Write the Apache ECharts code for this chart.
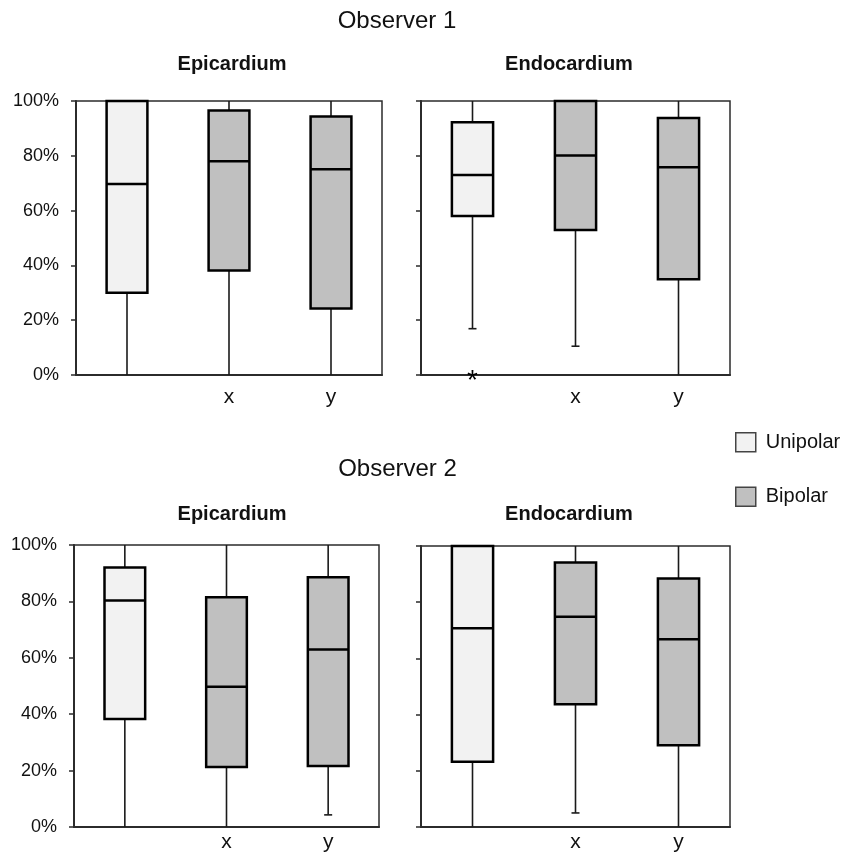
<!DOCTYPE html>
<html>
<head>
<meta charset="utf-8">
<script src="https://cdn.jsdelivr.net/npm/echarts@6/dist/echarts.min.js"></script>
<style>html,body{margin:0;padding:0;background:#fff;}#c{width:859px;height:853px;}</style>
</head>
<body>
<div id="c"></div>
<script>
// ---- data: [min, Q1, median, Q3, max] in percent ----
const categories = ['', 'x', 'y'];
const yTickValues = [0, 20, 40, 60, 80, 100];
const legendNames = ['Unipolar', 'Bipolar'];
const panelTitles = ['Epicardium', 'Endocardium'];
const observerTitles = ['Observer 1', 'Observer 2'];

const obs1EpiUnipolar  = [0, 30.0, 69.7, 100, 100];
const obs1EpiBipolarX  = [0, 38.1, 78.0, 96.5, 100];
const obs1EpiBipolarY  = [0, 24.3, 75.1, 94.3, 100];

const obs1EndoUnipolar = [16.9, 58.0, 73.0, 92.2, 100];
const obs1EndoBipolarX = [10.5, 52.9, 80.1, 100, 100];
const obs1EndoBipolarY = [0, 34.9, 75.8, 93.8, 100];
const obs1EndoUnipolarOutliers = [0];

const obs2EpiUnipolar  = [0, 38.3, 80.3, 92.0, 100];
const obs2EpiBipolarX  = [0, 21.3, 49.7, 81.5, 100];
const obs2EpiBipolarY  = [4.3, 21.6, 62.9, 88.6, 100];

const obs2EndoUnipolar = [0, 23.2, 70.7, 100, 100];
const obs2EndoBipolarX = [5.0, 43.7, 74.8, 94.1, 100];
const obs2EndoBipolarY = [0, 29.1, 66.8, 88.4, 100];

const FONT = "'Liberation Sans', Arial, sans-serif";
const UNI_FILL = '#f2f2f2';
const BI_FILL = '#c0c0c0';
const LINE = '#2b2b2b';

function boxRenderer(fill) {
  return function (params, api) {
    const c = api.value(0);
    const lo = api.coord([c, api.value(1)]);
    const q1 = api.coord([c, api.value(2)]);
    const md = api.coord([c, api.value(3)]);
    const q3 = api.coord([c, api.value(4)]);
    const hi = api.coord([c, api.value(5)]);
    const bw = api.size([1, 0])[0] * 0.4;
    const cx = lo[0];
    const cap = 4;
    const wStyle = { stroke: '#1a1a1a', lineWidth: 1.6 };
    const children = [
      { type: 'line', shape: { x1: cx, y1: hi[1], x2: cx, y2: q3[1] }, style: wStyle },
      { type: 'line', shape: { x1: cx, y1: q1[1], x2: cx, y2: lo[1] }, style: wStyle }
    ];
    if (api.value(1) > 0) {
      children.push({ type: 'line', shape: { x1: cx - cap, y1: lo[1], x2: cx + cap, y2: lo[1] }, style: wStyle });
    }
    if (api.value(5) < 100) {
      children.push({ type: 'line', shape: { x1: cx - cap, y1: hi[1], x2: cx + cap, y2: hi[1] }, style: wStyle });
    }
    children.push(
      { type: 'rect', shape: { x: cx - bw / 2, y: q3[1], width: bw, height: q1[1] - q3[1] },
        style: { fill: fill, stroke: '#000', lineWidth: 2.5 } },
      { type: 'line', shape: { x1: cx - bw / 2, y1: md[1], x2: cx + bw / 2, y2: md[1] },
        style: { stroke: '#000', lineWidth: 2.5 } }
    );
    return { type: 'group', children: children };
  };
}

function outlierRenderer(params, api) {
  const p = api.coord([api.value(0), api.value(1)]);
  return {
    type: 'text',
    style: { x: p[0], y: p[1] + 6, text: '*', fill: '#000', font: '28px ' + FONT,
             textAlign: 'center', textVerticalAlign: 'middle' }
  };
}

const grids = [
  { left: 76, top: 101, width: 306, height: 274 },
  { left: 421, top: 101, width: 309, height: 274 },
  { left: 74, top: 545, width: 305, height: 282 },
  { left: 421, top: 546, width: 309, height: 282 }
];

const panels = [
  { uni: obs1EpiUnipolar, bx: obs1EpiBipolarX, by: obs1EpiBipolarY, labels: true, xMargin: 12 },
  { uni: obs1EndoUnipolar, bx: obs1EndoBipolarX, by: obs1EndoBipolarY, labels: false, xMargin: 12, out: obs1EndoUnipolarOutliers },
  { uni: obs2EpiUnipolar, bx: obs2EpiBipolarX, by: obs2EpiBipolarY, labels: true, xMargin: 5 },
  { uni: obs2EndoUnipolar, bx: obs2EndoBipolarX, by: obs2EndoBipolarY, labels: false, xMargin: 5 }
];

const xAxes = [], yAxes = [], series = [];
panels.forEach(function (p, i) {
  xAxes.push({
    type: 'category', gridIndex: i, data: categories, boundaryGap: true,
    axisLine: { show: true, lineStyle: { color: LINE, width: 2 } },
    axisTick: { show: false },
    axisLabel: { color: '#111', fontSize: 21, fontFamily: FONT, margin: p.xMargin },
    splitLine: { show: false }
  });
  yAxes.push({
    type: 'value', gridIndex: i, min: 0, max: 100, interval: 20,
    axisLine: { show: true, lineStyle: { color: LINE, width: 2 } },
    axisTick: { show: true, inside: false, length: 5, lineStyle: { color: LINE, width: 1.5 } },
    axisLabel: { show: p.labels, color: '#111', fontSize: 18, fontFamily: FONT, margin: 17,
                 formatter: function (v) { return yTickValues.indexOf(v) >= 0 ? v + '%' : ''; } },
    splitLine: { show: false }
  });
  series.push({
    type: 'custom', name: legendNames[0], xAxisIndex: i, yAxisIndex: i,
    itemStyle: { color: UNI_FILL },
    renderItem: boxRenderer(UNI_FILL),
    encode: { x: 0, y: [1, 2, 3, 4, 5] },
    data: [[0].concat(p.uni)], z: 3
  });
  series.push({
    type: 'custom', name: legendNames[1], xAxisIndex: i, yAxisIndex: i,
    itemStyle: { color: BI_FILL },
    renderItem: boxRenderer(BI_FILL),
    encode: { x: 0, y: [1, 2, 3, 4, 5] },
    data: [[1].concat(p.bx), [2].concat(p.by)], z: 3
  });
  if (p.out) {
    series.push({
      type: 'custom', name: 'outliers', xAxisIndex: i, yAxisIndex: i,
      renderItem: outlierRenderer,
      encode: { x: 0, y: 1 },
      data: p.out.map(function (v) { return [0, v]; }), z: 4
    });
  }
});

const graphicTexts = [
  { x: 397, y: 21, text: observerTitles[0], font: '24px ' + FONT },
  { x: 397.5, y: 469, text: observerTitles[1], font: '24px ' + FONT },
  { x: 232, y: 64, text: panelTitles[0], font: 'bold 20px ' + FONT },
  { x: 569, y: 64, text: panelTitles[1], font: 'bold 20px ' + FONT },
  { x: 232, y: 514, text: panelTitles[0], font: 'bold 20px ' + FONT },
  { x: 569, y: 514, text: panelTitles[1], font: 'bold 20px ' + FONT }
].map(function (t) {
  return { type: 'text', x: t.x, y: t.y,
           style: { text: t.text, font: t.font, fill: '#111', textAlign: 'center', textVerticalAlign: 'middle' } };
});

const option = {
  animation: false,
  backgroundColor: '#fff',
  textStyle: { fontFamily: FONT },
  grid: grids.map(function (g) {
    return Object.assign({ show: true, borderColor: LINE, borderWidth: 1.5, backgroundColor: 'transparent', containLabel: false }, g);
  }),
  xAxis: xAxes,
  yAxis: yAxes,
  legend: {
    orient: 'vertical', left: 730, top: 427,
    itemWidth: 20, itemHeight: 19, itemGap: 34,
    selectedMode: false,
    textStyle: { fontSize: 20, color: '#111', fontFamily: FONT, padding: [0, 0, 0, 5] },
    data: [
      { name: legendNames[0], icon: 'rect', itemStyle: { color: UNI_FILL, borderColor: '#444', borderWidth: 1.5 } },
      { name: legendNames[1], icon: 'rect', itemStyle: { color: BI_FILL, borderColor: '#444', borderWidth: 1.5 } }
    ]
  },
  graphic: graphicTexts,
  series: series
};

const chart = echarts.init(document.getElementById('c'), null, { renderer: 'canvas' });
chart.setOption(option);
</script>
</body>
</html>
